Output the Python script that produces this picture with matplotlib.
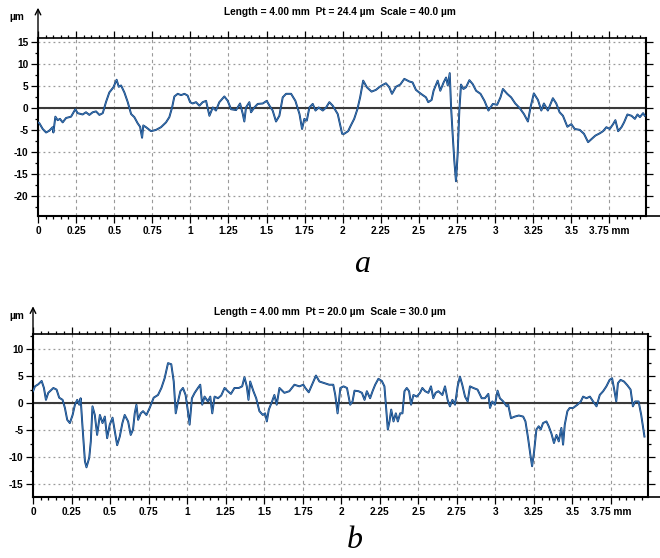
import numpy as np
import matplotlib
matplotlib.use("Agg")
import matplotlib.pyplot as plt
from matplotlib.ticker import MultipleLocator, FixedLocator, FixedFormatter

plt.rcParams['font.family'] = ['Liberation Sans', 'DejaVu Sans']

# ---------------- profile a (x in mm, z in um) ----------------
xa = [0.0, 0.009, 0.031, 0.053, 0.074, 0.096, 0.101, 0.114, 0.129, 0.144, 0.162, 0.184, 0.217, 0.245,
      0.260, 0.293, 0.315, 0.337, 0.359, 0.381, 0.403, 0.425, 0.446, 0.468, 0.495, 0.516, 0.530, 0.545,
      0.567, 0.589, 0.611, 0.632, 0.654, 0.670, 0.683, 0.691, 0.709, 0.742, 0.775, 0.807, 0.840, 0.862,
      0.880, 0.895, 0.917, 0.939, 0.961, 0.982, 0.998, 1.015, 1.037, 1.059, 1.081, 1.103, 1.125, 1.147,
      1.168, 1.190, 1.223, 1.245, 1.267, 1.300, 1.326, 1.344, 1.354, 1.365, 1.387, 1.398, 1.420, 1.442,
      1.475, 1.501, 1.519, 1.540, 1.562, 1.584, 1.606, 1.628, 1.661, 1.689, 1.716, 1.733, 1.748, 1.764,
      1.781, 1.803, 1.821, 1.842, 1.869, 1.891, 1.912, 1.934, 1.967, 1.982, 1.996, 2.009, 2.035, 2.053,
      2.075, 2.096, 2.114, 2.134, 2.158, 2.189, 2.218, 2.239, 2.261, 2.283, 2.305, 2.323, 2.349, 2.377,
      2.404, 2.437, 2.458, 2.480, 2.513, 2.546, 2.561, 2.583, 2.596, 2.623, 2.640, 2.662, 2.678, 2.689,
      2.702, 2.711, 2.721, 2.732, 2.743, 2.754, 2.765, 2.776, 2.792, 2.809, 2.831, 2.853, 2.875, 2.904,
      2.930, 2.956, 2.985, 3.013, 3.035, 3.051, 3.079, 3.105, 3.132, 3.160, 3.189, 3.215, 3.232, 3.254,
      3.281, 3.303, 3.320, 3.346, 3.379, 3.401, 3.423, 3.445, 3.474, 3.500, 3.522, 3.555, 3.583, 3.610,
      3.632, 3.658, 3.686, 3.708, 3.730, 3.752, 3.774, 3.789, 3.807, 3.829, 3.846, 3.868, 3.895, 3.917,
      3.934, 3.950, 3.971, 3.982]
za = [-3.2, -3.4, -4.7, -5.5, -5.1, -4.3, -5.5, -1.9, -2.7, -2.4, -3.2, -2.2, -1.9, -0.2,
      -1.1, -1.4, -0.9, -1.5, -0.9, -0.7, -1.5, -1.1, 1.4, 3.6, 4.8, 6.5, 4.9, 5.2,
      3.6, 1.4, -1.3, -2.0, -3.4, -4.2, -6.7, -3.9, -4.3, -5.2, -4.9, -4.3, -3.2, -2.0,
      0.2, 2.7, 3.3, 3.0, 3.3, 2.9, 1.4, 1.1, 1.4, 0.6, 1.4, 1.7, -1.7, 0.2,
      -0.5, 1.4, 2.7, 1.7, -0.2, -0.4, 1.1, -1.3, -3.0, 0.2, 1.4, -0.9, 0.2, 1.0,
      1.1, 1.7, 0.6, -0.5, -3.0, -1.7, 2.5, 3.3, 3.3, 1.7, -1.3, -4.7, -2.4, -2.8,
      0.2, 1.0, -0.5, 0.2, -0.5, 0.2, 1.4, 0.6, -1.3, -3.6, -5.8, -5.8, -5.2, -3.9,
      -2.4, -0.2, 2.5, 6.3, 4.8, 3.8, 4.2, 4.8, 5.3, 5.7, 4.8, 3.3, 4.9, 5.4,
      6.7, 6.1, 5.9, 4.2, 3.3, 2.5, 1.4, 1.9, 4.0, 6.3, 4.0, 5.9, 7.0, 5.2,
      8.0, 0.2, -5.8, -11.9, -16.6, -10.4, -0.5, 5.4, 4.4, 4.8, 6.4, 5.5, 4.0, 3.3,
      1.7, -0.5, 1.0, 0.8, 2.5, 4.4, 3.3, 2.5, 1.1, 0.1, -1.3, -3.0, 0.2, 3.4,
      1.9, -0.5, 1.1, -0.5, 2.3, 1.1, -0.9, -1.7, -4.2, -3.6, -4.7, -4.9, -5.8, -7.7,
      -7.0, -6.2, -5.7, -5.2, -4.3, -4.7, -3.6, -2.7, -5.2, -4.3, -3.2, -1.4, -1.7, -2.4,
      -1.4, -2.0, -1.1, -1.7]

# ---------------- profile b ----------------
xb = [0.0, 0.013, 0.035, 0.056, 0.071, 0.084, 0.099, 0.132, 0.153, 0.170, 0.192, 0.207, 0.222, 0.239,
      0.257, 0.272, 0.287, 0.300, 0.309, 0.321, 0.337, 0.347, 0.365, 0.375, 0.386, 0.401, 0.416, 0.434,
      0.451, 0.466, 0.481, 0.498, 0.516, 0.531, 0.546, 0.563, 0.580, 0.595, 0.617, 0.634, 0.649, 0.660,
      0.671, 0.682, 0.699, 0.714, 0.736, 0.757, 0.783, 0.811, 0.833, 0.854, 0.876, 0.897, 0.913, 0.926,
      0.941, 0.956, 0.973, 0.990, 1.005, 1.016, 1.031, 1.049, 1.070, 1.085, 1.098, 1.113, 1.135, 1.150,
      1.163, 1.178, 1.200, 1.221, 1.243, 1.264, 1.284, 1.307, 1.335, 1.357, 1.372, 1.387, 1.398, 1.409,
      1.430, 1.448, 1.469, 1.491, 1.506, 1.517, 1.530, 1.551, 1.566, 1.581, 1.599, 1.631, 1.663, 1.696,
      1.728, 1.754, 1.767, 1.789, 1.810, 1.836, 1.858, 1.890, 1.922, 1.948, 1.961, 1.976, 1.994, 2.015,
      2.037, 2.058, 2.073, 2.086, 2.112, 2.134, 2.151, 2.166, 2.187, 2.203, 2.220, 2.241, 2.263, 2.280,
      2.291, 2.302, 2.313, 2.324, 2.339, 2.354, 2.367, 2.382, 2.397, 2.410, 2.425, 2.440, 2.453, 2.468,
      2.490, 2.511, 2.526, 2.544, 2.565, 2.582, 2.597, 2.612, 2.630, 2.656, 2.673, 2.690, 2.705, 2.721,
      2.738, 2.755, 2.770, 2.785, 2.803, 2.820, 2.835, 2.857, 2.884, 2.911, 2.932, 2.954, 2.965, 2.980,
      2.997, 3.014, 3.029, 3.051, 3.073, 3.083, 3.101, 3.126, 3.152, 3.180, 3.195, 3.212, 3.227, 3.238,
      3.251, 3.266, 3.281, 3.294, 3.309, 3.331, 3.346, 3.363, 3.380, 3.396, 3.411, 3.428, 3.439, 3.450,
      3.467, 3.482, 3.504, 3.532, 3.554, 3.569, 3.591, 3.613, 3.634, 3.656, 3.677, 3.699, 3.720, 3.741,
      3.757, 3.769, 3.784, 3.795, 3.812, 3.834, 3.856, 3.877, 3.892, 3.907, 3.929, 3.946, 3.967]
zb = [2.2, 3.1, 3.5, 4.1, 2.8, 0.6, 1.9, 2.8, 2.5, 1.0, 0.6, -0.9, -3.1, -3.7,
      -2.2, -0.3, 0.6, -0.3, 0.9, -4.3, -10.8, -11.9, -10.1, -7.1, -0.6, -2.2, -5.9, -2.2,
      -3.7, -2.5, -6.5, -4.0, -2.7, -5.2, -7.8, -6.2, -3.7, -2.2, -3.4, -5.9, -4.9, -1.9,
      -0.3, -3.1, -1.9, -1.5, -2.2, -0.9, 1.0, 1.5, 2.8, 4.6, 7.4, 7.2, 4.0, -1.9,
      0.3, 2.2, 2.8, 1.5, -1.5, -4.0, 0.9, 1.9, 2.8, 3.4, -0.3, 1.2, 0.3, 1.2,
      -1.9, 1.2, 0.9, 1.4, 2.8, 2.2, 1.7, 2.8, 2.8, 3.1, 4.8, 3.1, 0.6, 4.0,
      2.2, 0.9, -1.5, -2.2, -1.9, -3.4, -1.2, 0.3, 1.5, -0.3, 2.8, 1.9, 2.2, 3.4,
      3.1, 3.4, 2.8, 2.0, 3.4, 5.1, 4.0, 3.7, 3.4, 3.4, 1.5, -1.9, 2.8, 3.1,
      2.8, -0.3, 0.3, 2.3, 2.2, 1.9, 0.6, 2.2, 0.9, 2.2, 3.4, 4.5, 4.1, 3.1,
      -0.9, -4.9, -3.4, -1.2, -3.4, -1.9, -3.4, -1.9, -1.9, 2.2, 2.8, 2.2, -0.3, 1.5,
      1.2, 1.9, 2.8, 2.2, 1.9, 3.1, 0.9, 1.9, 2.2, 1.5, 3.1, 0.6, -0.6, 0.6,
      -0.3, 3.1, 4.9, 3.4, 1.2, 0.3, 3.1, 2.8, 2.5, 0.9, 0.9, 1.7, -0.9, 0.3,
      -0.3, 2.3, 0.9, 0.3, -0.6, -0.3, -2.8, -2.5, -2.3, -2.5, -3.4, -6.5, -9.6, -11.7,
      -9.0, -4.9, -4.3, -4.9, -3.7, -3.4, -4.3, -5.6, -7.4, -5.9, -7.1, -4.6, -7.7, -4.0,
      -1.5, -0.9, -0.9, -0.3, 0.3, 1.2, 0.9, 1.2, 0.3, -0.6, 1.5, 2.2, 3.1, 4.3,
      4.6, 2.8, 0.3, 3.7, 4.3, 4.0, 3.3, 2.5, -0.6, 0.3, 0.3, -2.2, -6.2]

x_ticks = [0, 0.25, 0.5, 0.75, 1, 1.25, 1.5, 1.75, 2, 2.25, 2.5, 2.75, 3, 3.25, 3.5, 3.75]
x_labels = ["0", "0.25", "0.5", "0.75", "1", "1.25", "1.5", "1.75", "2", "2.25", "2.5",
            "2.75", "3", "3.25", "3.5", "3.75 mm"]
ya_ticks = [15, 10, 5, 0, -5, -10, -15, -20]
yb_ticks = [10, 5, 0, -5, -10, -15]

title_a = "Length = 4.00 mm  Pt = 24.4 µm  Scale = 40.0 µm"
title_b = "Length = 4.00 mm  Pt = 20.0 µm  Scale = 30.0 µm"

LINE_DARK = "#0f3c78"
LINE_LIGHT = "#4f93cf"
FS = 7.3


def style_axes(ax, yticks, ylim, title, title_xy, um_xy):
    ax.set_xlim(0, 3.99)
    ax.set_ylim(*ylim)
    ax.xaxis.set_major_locator(FixedLocator(x_ticks))
    ax.xaxis.set_major_formatter(FixedFormatter(x_labels))
    ax.xaxis.set_minor_locator(MultipleLocator(0.05))
    ax.yaxis.set_major_locator(FixedLocator(yticks))
    ax.yaxis.set_major_formatter(FixedFormatter([str(v) for v in yticks]))
    ax.yaxis.set_minor_locator(MultipleLocator(2.5))
    ax.tick_params(which="both", direction="out", top=True, right=True, labelsize=FS,
                   width=0.9, color="black", pad=2)
    ax.tick_params(which="major", length=5)
    ax.tick_params(which="minor", length=2.5)
    for lab in ax.get_xticklabels() + ax.get_yticklabels():
        lab.set_fontweight("bold")
    for side in ["left", "bottom", "right"]:
        ax.spines[side].set_linewidth(1.5)
    ax.spines["top"].set_linewidth(1.2)
    ax.xaxis.grid(True, which="major", linestyle=(0, (3, 3)), color="#9a9a9a", linewidth=0.8)
    ax.yaxis.grid(True, which="major", linestyle=(0, (1.5, 2.5)), color="#9a9a9a", linewidth=0.9)
    ax.axhline(0, color="#3a3a3a", linewidth=1.5, zorder=2)
    # y-axis arrow above the plot
    ax.annotate("", xy=(0, 1.17), xytext=(0, 1.0), xycoords="axes fraction",
                arrowprops=dict(arrowstyle="->", lw=1.0, color="black", shrinkA=0, shrinkB=0),
                annotation_clip=False)
    # bottom axis runs slightly past the frame
    ax.annotate("", xy=(1.025, 0), xytext=(1.0, 0), xycoords="axes fraction",
                arrowprops=dict(arrowstyle="-", lw=1.2, color="black", shrinkA=0, shrinkB=0),
                annotation_clip=False)
    ax.text(um_xy[0], um_xy[1], "µm", transform=ax.transAxes, fontsize=FS,
            fontweight="bold", ha="center", va="center")
    ax.text(title_xy[0], title_xy[1], title, transform=ax.transAxes, fontsize=FS,
            fontweight="bold", ha="center", va="center")


fig = plt.figure(figsize=(6.6, 5.58), dpi=100)
ax_a = fig.add_axes([38 / 660, 342 / 558, 608 / 660, 178 / 558])
ax_b = fig.add_axes([33 / 660, 61 / 558, 615 / 660, 163 / 558])

for ax, x, z in [(ax_a, xa, za), (ax_b, xb, zb)]:
    ax.plot(x, z, color=LINE_DARK, linewidth=1.4, zorder=3, solid_joinstyle="round")
    ax.plot(x, z, color=LINE_LIGHT, linewidth=0.4, zorder=4, solid_joinstyle="round")

style_axes(ax_a, ya_ticks, (-24.5, 16), title_a, (0.497, 1.146), (-0.035, 1.12))
style_axes(ax_b, yb_ticks, (-17.4, 12.8), title_b, (0.483, 1.135), (-0.027, 1.113))

fig.text(362 / 660, 1 - 265 / 558, "a", fontsize=23, style="italic",
         family="Liberation Serif", ha="center", va="center")
fig.text(355 / 660, 1 - 541 / 558, "b", fontsize=23, style="italic",
         family="Liberation Serif", ha="center", va="center")

fig.savefig("out.png", dpi=100)
